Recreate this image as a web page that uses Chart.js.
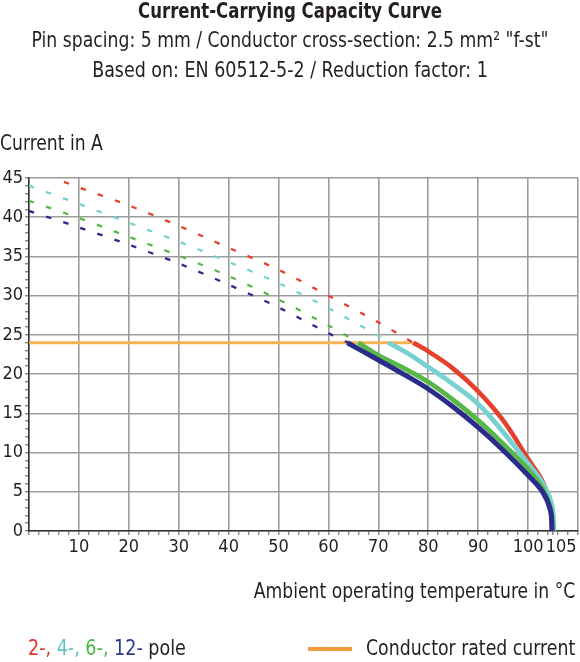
<!DOCTYPE html>
<html>
<head>
<meta charset="utf-8">
<script src="https://cdn.jsdelivr.net/npm/chart.js@4"></script>
<style>
html,body{margin:0;padding:0;background:#fff;}
#wrap{position:relative;width:580px;height:662px;overflow:hidden;font-family:"DejaVu Sans Condensed","DejaVu Sans",sans-serif;color:#231f20;}
#c{position:absolute;left:0;top:0;}
.t{position:absolute;white-space:nowrap;font-size:21px;line-height:24px;}
.c{left:0;width:580px;text-align:center;transform-origin:290px 50%;}
.l{transform-origin:0 50%;}
.r{transform-origin:100% 50%;}
</style>
</head>
<body>
<div id="wrap">
<canvas id="c" width="580" height="662"></canvas>
<div class="t c" style="top:-1px;font-weight:bold;transform:scaleX(0.876)">Current-Carrying Capacity Curve</div>
<div class="t c" style="top:28px;transform:scaleX(0.913)">Pin spacing: 5 mm / Conductor cross-section: 2.5 mm² "f-st"</div>
<div class="t c" style="top:58px;transform:scaleX(0.925)">Based on: EN 60512-5-2 / Reduction factor: 1</div>
<div class="t l" style="left:0;top:131px;transform:scaleX(0.91)">Current in A</div>
<div class="t r" style="right:5px;top:579px;transform:scaleX(0.91)">Ambient operating temperature in °C</div>
<div class="t l" style="left:28px;top:636px;transform:scaleX(0.93)"><span style="color:#e3342a">2-,</span> <span style="color:#5fc3c6">4-,</span> <span style="color:#4cb848">6-,</span> <span style="color:#2a3a8f">12-</span> pole</div>
<div style="position:absolute;left:308px;top:647px;width:44px;height:4px;background:#f39a3e"></div>
<div class="t r" style="right:5px;top:636px;transform:scaleX(0.917)">Conductor rated current</div>
</div>
<script>
// ---- data (temperature in °C, current in A) ----
const xMajorTicks = [10, 20, 30, 40, 50, 60, 70, 80, 90, 100, 105];
const yMajorTicks = [0, 5, 10, 15, 20, 25, 30, 35, 40, 45];

const pole2Extrapolated = [[7,44.5],[10,43.8],[20,41.5],[30,38.9],[40,36.1],[50,33.3],[60,30.0],[70,26.6],[77,24.0]];
const pole2Curve = [[77,24.0],[80,22.9],[85,20.7],[90,17.8],[95,14.1],[100,9.2],[103,6.2],[104.5,3.2],[104.8,0]];

const pole4Extrapolated = [[0,44.0],[10,41.7],[20,39.3],[30,36.9],[40,34.3],[50,31.6],[60,28.4],[70,24.9],[72,24.0]];
const pole4Curve = [[72,24.0],[76,22.6],[80,20.9],[85,18.7],[90,16.2],[95,12.6],[100,8.6],[103,6.0],[104.7,3.5],[105.2,0]];

const pole6Extrapolated = [[0,42.1],[10,39.9],[20,37.5],[30,35.1],[40,32.5],[50,29.5],[60,26.2],[66,24.0]];
const pole6Curve = [[66,24.0],[70,22.4],[75,20.8],[80,19.0],[85,16.7],[90,14.1],[95,11.1],[100,7.9],[103,5.3],[104.6,2.6],[104.9,0]];

const pole12Extrapolated = [[0,40.8],[10,38.7],[20,36.5],[30,34.1],[40,31.4],[50,28.5],[60,25.2],[64,24.0]];
const pole12Curve = [[63.8,24.0],[70,21.8],[75,20.0],[80,18.1],[85,15.8],[90,13.2],[95,10.3],[100,7.1],[103,4.9],[104.5,2.6],[104.8,0]];

const ratedCurrent = [[0,24],[77,24]];

// ---- styling ----
const FONT = '"DejaVu Sans Condensed","DejaVu Sans",sans-serif';
const colors = {p2:'#e5402c', p4:'#78d1d1', p6:'#57b848', p12:'#2b2b8a', rated:'#f6b257'};
const pts = a => a.map(([x, y]) => ({x, y}));
const dashed = (data, color, order) => ({data: pts(data), borderColor: color, borderWidth: 2.3, borderDash: [5.5, 12.5], borderCapStyle: 'butt', tension: 0.3, pointRadius: 0, fill: false, order});
const solid = (data, color, w, order) => ({data: pts(data), borderColor: color, borderWidth: w, borderCapStyle: 'butt', borderJoinStyle: 'round', tension: 0.4, pointRadius: 0, fill: false, order});

new Chart(document.getElementById('c'), {
  type: 'line',
  data: {
    datasets: [
      solid(pole12Curve, colors.p12, 5, 1),
      solid(pole6Curve, colors.p6, 4.8, 2),
      solid(pole4Curve, colors.p4, 4.8, 3),
      solid(pole2Curve, colors.p2, 4.5, 4),
      dashed(pole12Extrapolated, colors.p12, 5),
      dashed(pole6Extrapolated, colors.p6, 6),
      dashed(pole4Extrapolated, colors.p4, 7),
      dashed(pole2Extrapolated, colors.p2, 8),
      {data: pts(ratedCurrent), borderColor: colors.rated, borderWidth: 3, pointRadius: 0, tension: 0, order: 9}
    ]
  },
  options: {
    responsive: false,
    animation: false,
    devicePixelRatio: 1,
    layout: {padding: {top: 178, right: 2, bottom: 100, left: 0}},
    plugins: {legend: {display: false}, tooltip: {enabled: false}, title: {display: false}},
    scales: {
      x: {
        type: 'linear', min: 0, max: 110,
        afterBuildTicks: s => {
          const t = [];
          for (let v = 0; v <= 110; v += 2) t.push({value: v});
          t.push({value: 105});
          t.sort((a, b) => a.value - b.value);
          s.ticks = t;
        },
        afterFit: s => { s.height = 31; },
        ticks: {
          autoSkip: false, maxRotation: 0, minRotation: 0, padding: 2,
          color: '#231f20', font: {family: FONT, size: 18},
          callback: v => xMajorTicks.includes(v) ? (v === 105 ? '\u2002\u2002105' : String(v)) : ''
        },
        grid: {
          color: c => (c.tick && c.tick.value % 10 === 0) ? '#9c9c9c' : 'rgba(0,0,0,0)',
          lineWidth: 1.6, drawTicks: true, tickLength: 4, tickColor: '#555', tickWidth: 1
        },
        border: {color: '#333', width: 1.5}
      },
      y: {
        type: 'linear', min: 0, max: 45,
        afterBuildTicks: s => {
          const t = [];
          for (let v = 0; v <= 45; v += 1) t.push({value: v});
          s.ticks = t;
        },
        afterFit: s => { s.width = 29; },
        ticks: {
          autoSkip: false, padding: 2,
          color: '#231f20', font: {family: FONT, size: 18},
          callback: v => yMajorTicks.includes(v) ? String(v) : ''
        },
        grid: {
          color: c => (c.tick && c.tick.value % 5 === 0) ? '#9c9c9c' : 'rgba(0,0,0,0)',
          lineWidth: 1.6, drawTicks: true, tickLength: 4, tickColor: '#555', tickWidth: 1
        },
        border: {color: '#333', width: 1.5}
      }
    }
  }
});
</script>
</body>
</html>
